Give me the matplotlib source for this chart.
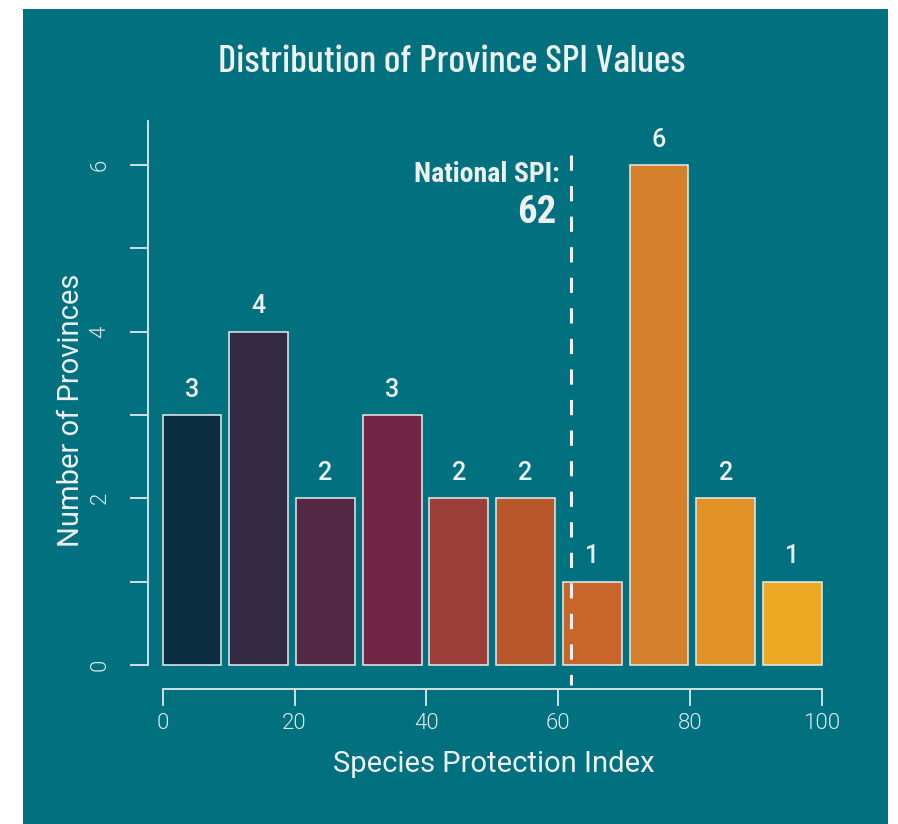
import numpy as np
import matplotlib
matplotlib.use("Agg")
from matplotlib import pyplot as plt
from matplotlib.patches import Rectangle

# histogram of province SPI values, 10-point bins
bin_edges = [0, 10, 20, 30, 40, 50, 60, 70, 80, 90, 100]
counts = [3, 4, 2, 3, 2, 2, 1, 6, 2, 1]
bar_colors = ["#0d2d40", "#332942", "#532845", "#732546", "#9a3f39",
              "#b8572a", "#c8652a", "#d47f2a", "#e09227", "#eca823"]
national_spi = 62
x_ticks = [0, 20, 40, 60, 80, 100]
y_ticks = [0, 2, 4, 6]

bg = "#01707f"
fg = "#eef1f2"
axis_col = "#dfe9eb"

W, H = 898, 824
fig = plt.figure(figsize=(W / 100, H / 100), dpi=100)
fig.patch.set_facecolor("white")
fig.patches.append(Rectangle((23 / W, 0), 865 / W, (H - 9) / H,
                             transform=fig.transFigure, facecolor=bg,
                             edgecolor="none", zorder=-1))

# axes placed so that 0..100 and 0..6 land where they should
xlim = (-4, 104)
ylim = (-0.35, 6.6)
px_x = 6.59
px_y = 83.33
left_px = 162.7 + xlim[0] * px_x
right_px = 162.7 + xlim[1] * px_x
top_px = 665 - ylim[1] * px_y
bot_px = 665 - ylim[0] * px_y
ax = fig.add_axes([left_px / W, 1 - bot_px / H,
                   (right_px - left_px) / W, (bot_px - top_px) / H])
ax.set_facecolor("none")
ax.set_xlim(*xlim)
ax.set_ylim(*ylim)

# bars: equal widths with a small gap, first bar starts at 0, last ends at 100
n = len(counts)
space = 0.135
span = bin_edges[-1] - bin_edges[0]
w = span / (n + (n - 1) * space)
lefts = np.array([bin_edges[0] + i * w * (1 + space) for i in range(n)])
ax.bar(lefts, counts, width=w, align="edge", color=bar_colors,
       edgecolor="#e9eced", linewidth=1.1, zorder=2)

for lx, c in zip(lefts, counts):
    ax.text(lx + w / 2, c + 0.16, str(c), ha="center", va="bottom",
            fontsize=18, fontweight="medium", family="Roboto", color=fg,
            zorder=3)

# national reference line
ax.plot([national_spi, national_spi], [6.12, -0.24], color=fg, lw=2.2,
        linestyle=(0, (5, 5)), zorder=3, solid_capstyle="butt")
ax.text(national_spi - 1.8, 5.8, "National SPI:", ha="right", va="baseline",
        fontsize=20, fontweight="bold", family="Roboto Condensed", color=fg)
ax.text(national_spi - 2.2, 5.3, str(national_spi), ha="right", va="baseline",
        fontsize=28, fontweight="bold", family="Roboto Condensed", color=fg)

# axes in base-graphics style: detached, only spanning the data
for s in ["top", "right"]:
    ax.spines[s].set_visible(False)
ax.spines["bottom"].set_position(("data", -0.288))
ax.spines["left"].set_position(("data", -2.23))
ax.spines["bottom"].set_bounds(0, 100)
ax.spines["left"].set_bounds(0, 6.53)
for s in ["bottom", "left"]:
    ax.spines[s].set_color(axis_col)
    ax.spines[s].set_linewidth(1.3)

ax.set_xticks(x_ticks)
ax.set_yticks(y_ticks)
ax.set_yticks([1, 3, 5], minor=True)
ax.tick_params(axis="x", length=12.2, width=1.3, color=axis_col, pad=5,
               labelsize=16, labelcolor=axis_col)
ax.tick_params(axis="y", which="both", length=13, width=1.3, color=axis_col,
               pad=14, labelsize=16, labelcolor=axis_col)
for lbl in ax.get_xticklabels() + ax.get_yticklabels():
    lbl.set_family("Roboto")
    lbl.set_fontweight(300)
for lbl in ax.get_yticklabels():
    lbl.set_rotation(90)
    lbl.set_va("center")

fig.text(494 / W, 1 - 764 / H, "Species Protection Index", ha="center",
         va="center", fontsize=21, family="Roboto", color=fg)
fig.text(71 / W, 1 - 410 / H, "Number of Provinces", ha="center",
         va="center", rotation=90, fontsize=21, family="Roboto", color=fg)
fig.text(452 / W, 1 - 62 / H, "Distribution of Province SPI Values",
         ha="center", va="center", fontsize=28, fontweight=500,
         family="Barlow Condensed", color=fg)

fig.savefig("out.png", dpi=100, facecolor=fig.get_facecolor())
